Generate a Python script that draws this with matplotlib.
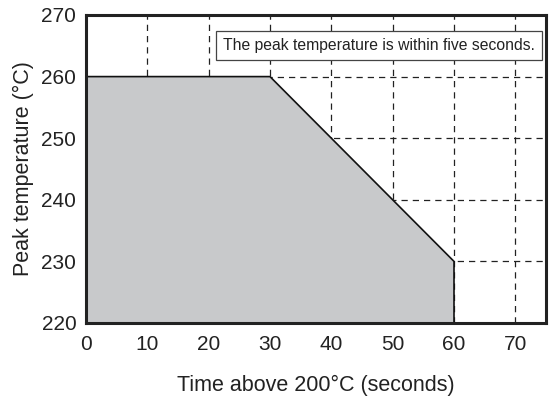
import matplotlib
matplotlib.use("Agg")
import matplotlib.pyplot as plt

plt.rcParams['font.family'] = ['Liberation Sans', 'DejaVu Sans']

# Data: boundary of allowed region
time_s = [0, 30, 60, 60]
peak_c = [260, 260, 230, 220]
x_ticks = [0, 10, 20, 30, 40, 50, 60, 70]
y_ticks = [220, 230, 240, 250, 260, 270]
note = "The peak temperature is within five seconds."

fig = plt.figure(figsize=(5.49, 4.0), dpi=100)
ax = fig.add_axes([86/549, 1 - 323/400, (546-86)/549, (323-15)/400])

ax.set_xlim(0, 75)
ax.set_ylim(220, 270)
ax.set_xticks(x_ticks)
ax.set_yticks(y_ticks)
ax.tick_params(length=0, labelsize=15, colors='#222222')
ax.tick_params(axis='x', pad=9)
ax.tick_params(axis='y', pad=7)

ax.grid(True, linestyle=(0, (5, 4)), color='#222222', linewidth=0.9)
ax.set_axisbelow(True)

fx = [0] + time_s + [0]
fy = [220] + peak_c + [220]
ax.fill(fx, fy, facecolor='#c8c9cb', edgecolor='none', zorder=2)
ax.plot(time_s, peak_c, color='#111111', linewidth=1.2, zorder=3)

for s in ax.spines.values():
    s.set_linewidth(2.2)
    s.set_color('#222222')
    s.set_zorder(5)

ax.text(73.2, 265.05, note, ha='right', va='center', fontsize=11.3, color='#222222',
        bbox=dict(boxstyle='square,pad=0.45', facecolor='white', edgecolor='#444444', linewidth=0.9),
        zorder=6)

ax.set_xlabel("Time above 200°C (seconds)", fontsize=15.5, labelpad=15, color='#222222')
ax.set_ylabel("Peak temperature (°C)", fontsize=15.5, labelpad=5, color='#222222')

fig.savefig("out.png", dpi=100)
